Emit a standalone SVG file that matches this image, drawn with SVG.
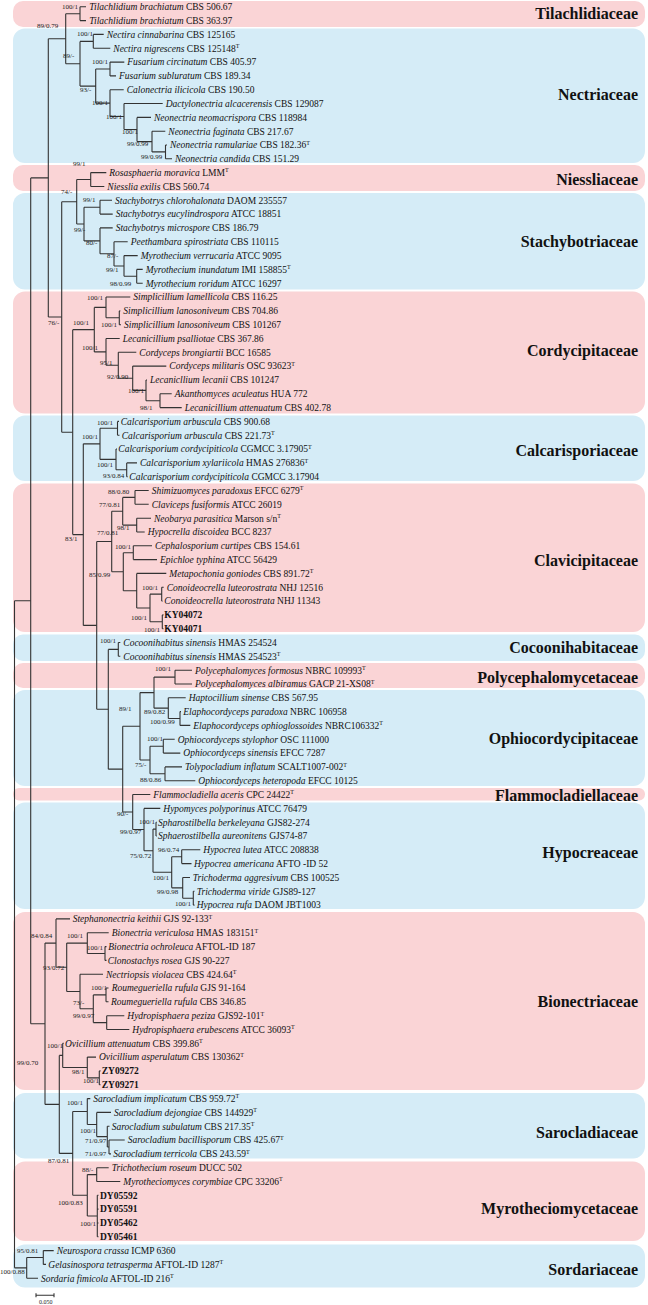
<svg xmlns="http://www.w3.org/2000/svg" width="648" height="1305" viewBox="0 0 648 1305">
<style>
.sp{font-family:"Liberation Serif","Times New Roman",serif;font-size:9.5px;fill:#111}
.i{font-style:italic}
.bd{font-weight:bold}
.sup{font-size:6px}
.sv{font-family:"Liberation Serif","Times New Roman",serif;font-size:7px;fill:#222}
.fam{font-family:"Liberation Serif","Times New Roman",serif;font-size:16px;font-weight:bold;text-anchor:end;fill:#111}
.pk{fill:#FAD4D6}
.bl{fill:#D5ECF7}
.ln{fill:none;stroke:#333;stroke-width:1.1}
</style>
<rect width="648" height="1305" fill="#fff"/>
<g id="families">
<g id="fam-til"><rect class="pk" x="13" y="1" width="632" height="26" rx="10"/><text class="fam" x="638" y="19">Tilachlidiaceae</text></g>
<g id="fam-nect"><rect class="bl" x="13" y="28.5" width="632" height="134.5" rx="12"/><text class="fam" x="638" y="100">Nectriaceae</text></g>
<g id="fam-nies"><rect class="pk" x="13" y="165" width="632" height="26" rx="10"/><text class="fam" x="638" y="185">Niessliaceae</text></g>
<g id="fam-stach"><rect class="bl" x="13" y="193" width="632" height="96.5" rx="12"/><text class="fam" x="638" y="247">Stachybotriaceae</text></g>
<g id="fam-cord"><rect class="pk" x="13" y="291.5" width="632" height="122" rx="12"/><text class="fam" x="638" y="356">Cordycipitaceae</text></g>
<g id="fam-calc"><rect class="bl" x="13" y="415.5" width="632" height="65.5" rx="12"/><text class="fam" x="638" y="456">Calcarisporiaceae</text></g>
<g id="fam-clav"><rect class="pk" x="13" y="483.5" width="632" height="148.5" rx="12"/><text class="fam" x="638" y="566">Clavicipitaceae</text></g>
<g id="fam-coco"><rect class="bl" x="13" y="634.5" width="632" height="26.5" rx="10"/><text class="fam" x="638" y="653">Cocoonihabitaceae</text></g>
<g id="fam-poly"><rect class="pk" x="13" y="663" width="632" height="25" rx="10"/><text class="fam" x="638" y="682.5">Polycephalomycetaceae</text></g>
<g id="fam-ophio"><rect class="bl" x="13" y="690" width="632" height="96" rx="12"/><text class="fam" x="638" y="743.5">Ophiocordycipitaceae</text></g>
<g id="fam-flam"><rect class="pk" x="13" y="788" width="632" height="12.5" rx="6"/><text class="fam" x="638" y="800.5">Flammocladiellaceae</text></g>
<g id="fam-hypo"><rect class="bl" x="13" y="802.5" width="632" height="106.5" rx="12"/><text class="fam" x="638" y="858">Hypocreaceae</text></g>
<g id="fam-bion"><rect class="pk" x="13" y="912" width="632" height="178" rx="12"/><text class="fam" x="638" y="1006.5">Bionectriaceae</text></g>
<g id="fam-saro"><rect class="bl" x="13" y="1093" width="632" height="65.5" rx="12"/><text class="fam" x="638" y="1138">Sarocladiaceae</text></g>
<g id="fam-myro"><rect class="pk" x="13" y="1161.5" width="632" height="79.5" rx="12"/><text class="fam" x="638" y="1214">Myrotheciomycetaceae</text></g>
<g id="fam-sord"><rect class="bl" x="13" y="1244.5" width="632" height="43" rx="12"/><text class="fam" x="638" y="1275">Sordariaceae</text></g>
</g>
<g id="connectors" class="ln">
<path d="M80 6.8V20.6M80 6.8H86M80 20.6H86M93.3 34.4V48.3M93.3 34.4H103.7M93.3 48.3H110.3M110 62.1V75.9M110 62.1H124.3M110 75.9H116M165.5 145V158.8M165.5 145H167M165.5 158.8H172M152 131.2V151.9M152 131.2H165.3M152 151.9H165.5M137 117.4V141.6M137 117.4H151M137 141.6H152M124 103.5V129.5M124 103.5H162.7M124 129.5H137M110 89.7V116.5M110 89.7H123.7M110 116.5H124M95.7 69V103.1M95.7 69H110M95.7 103.1H110M80 41.4V86.1M80 41.4H93.3M80 86.1H95.7M65.7 13.7V63.8M65.7 13.7H80M65.7 63.8H80M48.3 38.8V317M48.3 38.8H65.7M48.3 317H61.7"/>
<path d="M90.7 172.6V186.5M90.7 172.6H106.3M90.7 186.5H104.3M100 200.3V214.1M100 200.3H112M100 214.1H112.7M136.7 269.4V283.2M136.7 269.4H142.7M136.7 283.2H142.7M124 255.6V276.3M124 255.6H137.7M124 276.3H136.7M114 241.7V266M114 241.7H127.7M114 266H124M100 227.9V253.8M100 227.9H112.7M100 253.8H114M84 207.2V240.9M84 207.2H100M84 240.9H100M76.7 179.55V224.05M76.7 179.55H90.7M76.7 224.05H84M61.7 201.8V432.2M61.7 201.8H76.7M61.7 432.2H72.7"/>
<path d="M119.3 310.9V324.7M119.3 310.9H120.3M119.3 324.7H121M106 297V317.8M106 297H130.3M106 317.8H119.3M160 393.8V407.6M160 393.8H171.7M160 407.6H181.7M146 380V400.7M146 380H147M146 400.7H160M132.7 366.1V390.35M132.7 366.1H166.3M132.7 390.35H146M118.3 352.3V378.2M118.3 352.3H136.3M118.3 378.2H132.7M106 338.5V365.25M106 338.5H119.7M106 365.25H118.3M94.3 307.4V351.9M94.3 307.4H106M94.3 351.9H106M72.7 329.65V534.6M72.7 329.65H94.3M72.7 534.6H83.3"/>
<path d="M117.5 421.4V435.2M117.5 421.4H119M117.5 435.2H119.5M126.7 462.9V476.7M126.7 462.9H137M126.7 476.7H127.7M116 449V469.8M116 449H117M116 469.8H126.7M100 428.3V459.4M100 428.3H117.5M100 459.4H116M83.3 443.85V625.4M83.3 443.85H100M83.3 625.4H96.7"/>
<path d="M135 490.5V504.3M135 490.5H148.7M135 504.3H148.7M136.7 518.2V532M136.7 518.2H151M136.7 532H144.7M122.7 497.4V525.1M122.7 497.4H135M122.7 525.1H136.7M133.3 545.8V559.6M133.3 545.8H152M133.3 559.6H157M161.7 587.2V601.1M161.7 587.2H163.7M161.7 601.1H162.5M162.3 614.9V628.7M162.3 614.9H163.5M162.3 628.7H163.5M150 594.15V621.8M150 594.15H161.7M150 621.8H162.3M136.7 573.4V608M136.7 573.4H166.3M136.7 608H150M123.3 552.7V590.7M123.3 552.7H133.3M123.3 590.7H136.7M111.7 511.25V571.7M111.7 511.25H122.7M111.7 571.7H123.3M96.7 541.5V709.3M96.7 541.5H111.7M96.7 709.3H108.3"/>
<path d="M118.3 642.5V656.3M118.3 642.5H120.3M118.3 656.3H120.3M175 670.2V684M175 670.2H192M175 684H192M180 711.6V725.4M180 711.6H181M180 725.4H190.3M168.3 697.8V718.5M168.3 697.8H185.7M168.3 718.5H180M154 677.1V708.15M154 677.1H175M154 708.15H168.3M163.3 739.3V753.1M163.3 739.3H174.7M163.3 753.1H180.3M165 766.9V780.7M165 766.9H182M165 780.7H195.3M150 746.2V773.8M150 746.2H163.3M150 773.8H165M140 692.6V760M140 692.6H154M140 760H150"/>
<path d="M181.7 849.8V863.6M181.7 849.8H200.3M181.7 863.6H191.5M193.3 891.3V905.1M193.3 891.3H194.5M193.3 905.1H194.5M182.7 877.5V898.2M182.7 877.5H190M182.7 898.2H193.3M171.7 856.7V887.85M171.7 856.7H181.7M171.7 887.85H182.7M156 822.2V836M156 822.2H156.8M156 836H156.8M153 829.1V872.3M153 829.1H156M153 872.3H171.7M144 808.4V850.7M144 808.4H160.3M144 850.7H153M132.7 794.5V829.55M132.7 794.5H150.3M132.7 829.55H144M122.7 726.3V812M122.7 726.3H140M122.7 812H132.7M108.3 649.4V769.15M108.3 649.4H118.3M108.3 769.15H122.7"/>
<path d="M105 946.6V960.4M105 946.6H106.5M105 960.4H106.5M87.3 932.7V953.5M87.3 932.7H108.7M87.3 953.5H105M106 988V1001.8M106 988H108.5M106 1001.8H108.5M106.7 1015.7V1029.5M106.7 1015.7H124.3M106.7 1029.5H129.3M93.3 994.9V1022.6M93.3 994.9H106M93.3 1022.6H106.7M80 974.2V1008.75M80 974.2H103M80 1008.75H93.3M66.7 943.1V991.5M66.7 943.1H87.3M66.7 991.5H80M56 918.9V967.3M56 918.9H70M56 967.3H66.7"/>
<path d="M99.3 1070.9V1084.8M99.3 1070.9H100.5M99.3 1084.8H100.5M87.3 1057.1V1077.85M87.3 1057.1H96M87.3 1077.85H99.3M62.7 1043.3V1067.5M62.7 1043.3H63.8M62.7 1067.5H87.3M109 1140V1153.9M109 1140H124.7M109 1153.9H111M107.3 1126.2V1146.95M107.3 1126.2H109.5M107.3 1146.95H109M96.7 1112.4V1136.6M96.7 1112.4H111M96.7 1136.6H107.3M87.3 1098.6V1124.5M87.3 1098.6H90.3M87.3 1124.5H96.7M96.7 1167.7V1181.5M96.7 1167.7H108.7M96.7 1181.5H120.3M97.3 1195.3V1236.8M97.3 1195.3H98.5M97.3 1209.1H98.5M97.3 1223H98.5M97.3 1236.8H98.5M87.3 1174.6V1216.05M87.3 1174.6H96.7M87.3 1216.05H97.3M72.7 1111.55V1195.3M72.7 1111.55H87.3M72.7 1195.3H87.3M59.3 1055.4V1153.4M59.3 1055.4H62.7M59.3 1153.4H72.7M45 943.1V1104.4M45 943.1H56M45 1104.4H59.3M30.7 177.9V1023.75M30.7 177.9H48.3M30.7 1023.75H45"/>
<path d="M43.3 1250.6V1264.4M43.3 1250.6H53.7M43.3 1264.4H46M26.7 1257.5V1278.2M26.7 1257.5H43.3M26.7 1278.2H38M14.5 600.8V1267.85M14.5 600.8H30.7M14.5 1267.85H26.7"/>
<path d="M36 1295.3H54M36 1293.3V1297.3M54 1293.3V1297.3"/>
</g>
<g id="support" class="sv">
<text x="62" y="8.5">100/1</text>
<text x="37" y="27.5">89/0.79</text>
<text x="77" y="35.5">100/1</text>
<text x="63" y="57.5">89/-</text>
<text x="92" y="63.5">100/1</text>
<text x="80" y="91.5">93/-</text>
<text x="92" y="104.5">100/1</text>
<text x="106" y="118.5">100/1</text>
<text x="122" y="133.5">100/1</text>
<text x="127" y="145.5">99/0.99</text>
<text x="141" y="158.5">99/0.99</text>
<text x="73" y="165.5">99/1</text>
<text x="61" y="193.5">74/-</text>
<text x="83" y="201.5">99/1</text>
<text x="74" y="231.5">99/-</text>
<text x="86" y="244.5">80/-</text>
<text x="107" y="257.5">87/-</text>
<text x="106" y="271.5">99/1</text>
<text x="110" y="285.5">98/0.99</text>
<text x="87" y="299.5">100/1</text>
<text x="48" y="324.5">76/-</text>
<text x="73" y="324.5">100/1</text>
<text x="101" y="326.5">100/1</text>
<text x="82" y="349.5">100/1</text>
<text x="100" y="364.5">95/1</text>
<text x="107" y="378.5">92/0.90</text>
<text x="128" y="392.5">100/1</text>
<text x="140" y="409.5">98/1</text>
<text x="97" y="424.5">100/1</text>
<text x="82" y="438.5">100/1</text>
<text x="97" y="466.5">100/1</text>
<text x="103" y="477.5">93/0.84</text>
<text x="108" y="493.5">88/0.80</text>
<text x="99" y="506.5">77/0.81</text>
<text x="117" y="529.5">98/1</text>
<text x="97" y="534.5">77/0.81</text>
<text x="65" y="540.5">83/1</text>
<text x="115" y="548.5">100/1</text>
<text x="89" y="576.5">85/0.99</text>
<text x="142" y="589.5">100/1</text>
<text x="131" y="619.5">100/1</text>
<text x="144" y="631.5">100/1</text>
<text x="100" y="642.5">100/1</text>
<text x="155" y="670.5">100/1</text>
<text x="119" y="710.5">89/1</text>
<text x="144" y="713.5">89/0.82</text>
<text x="150" y="723.5">100/0.99</text>
<text x="147" y="740.5">100/1</text>
<text x="135" y="766.5">75/-</text>
<text x="140" y="781.5">88/0.86</text>
<text x="117" y="815.5">90/-</text>
<text x="139" y="823.5">100/1</text>
<text x="120" y="833.5">99/0.97</text>
<text x="158" y="851.5">96/0.74</text>
<text x="130" y="857.5">75/0.72</text>
<text x="153" y="879.5">100/1</text>
<text x="157" y="893.5">99/0.98</text>
<text x="175" y="905.5">100/1</text>
<text x="31" y="937.5">84/0.84</text>
<text x="67" y="937.5">100/1</text>
<text x="87" y="949.5">100/1</text>
<text x="43" y="969.5">93/0.72</text>
<text x="91" y="989.5">100/1</text>
<text x="73" y="1004.5">73/-</text>
<text x="73" y="1017.5">99/0.97</text>
<text x="47" y="1047.5">100/1</text>
<text x="17" y="1064.5">99/0.70</text>
<text x="72" y="1073.5">98/1</text>
<text x="83" y="1082.5">100/1</text>
<text x="67" y="1104.5">100/1</text>
<text x="80" y="1132.5">100/1</text>
<text x="85" y="1142.5">71/0.97</text>
<text x="85" y="1155.5">71/0.97</text>
<text x="48" y="1162.5">87/0.81</text>
<text x="82" y="1171.5">88/-</text>
<text x="58" y="1204.5">100/0.83</text>
<text x="80" y="1225.5">100/1</text>
<text x="17" y="1252.5">95/0.81</text>
<text x="0" y="1273.5">100/0.88</text>
<text x="39" y="1304" style="font-size:6px">0.050</text>
</g>
<g id="taxa" class="sp">
<g id="t1"><text x="89.3" y="10.1"><tspan class="i">Tilachlidium brachiatum</tspan> CBS 506.67</text></g>
<g id="t2"><text x="89.3" y="23.9"><tspan class="i">Tilachlidium brachiatum</tspan> CBS 363.97</text></g>
<g id="t3"><text x="106.7" y="37.7"><tspan class="i">Nectira cinnabarina</tspan> CBS 125165</text></g>
<g id="t4"><text x="113.3" y="51.6"><tspan class="i">Nectira nigrescens</tspan> CBS 125148<tspan class="sup" dy="-3.5">T</tspan></text></g>
<g id="t5"><text x="127.3" y="65.4"><tspan class="i">Fusarium circinatum</tspan> CBS 405.97</text></g>
<g id="t6"><text x="119" y="79.2"><tspan class="i">Fusarium subluratum</tspan> CBS 189.34</text></g>
<g id="t7"><text x="126.7" y="93"><tspan class="i">Calonectria ilicicola</tspan> CBS 190.50</text></g>
<g id="t8"><text x="165.7" y="106.8"><tspan class="i">Dactylonectria alcacerensis</tspan> CBS 129087</text></g>
<g id="t9"><text x="154" y="120.7"><tspan class="i">Neonectria neomacrispora</tspan> CBS 118984</text></g>
<g id="t10"><text x="168.3" y="134.5"><tspan class="i">Neonectria faginata</tspan> CBS 217.67</text></g>
<g id="t11"><text x="170" y="148.3"><tspan class="i">Neonectria ramulariae</tspan> CBS 182.36<tspan class="sup" dy="-3.5">T</tspan></text></g>
<g id="t12"><text x="175" y="162.1"><tspan class="i">Neonectria candida</tspan> CBS 151.29</text></g>
<g id="t13"><text x="109.3" y="175.9"><tspan class="i">Rosasphaeria moravica</tspan> LMM<tspan class="sup" dy="-3.5">T</tspan></text></g>
<g id="t14"><text x="107.3" y="189.8"><tspan class="i">Niesslia exilis</tspan> CBS 560.74</text></g>
<g id="t15"><text x="115" y="203.6"><tspan class="i">Stachybotrys chlorohalonata</tspan> DAOM 235557</text></g>
<g id="t16"><text x="115.7" y="217.4"><tspan class="i">Stachybotrys eucylindrospora</tspan> ATCC 18851</text></g>
<g id="t17"><text x="115.7" y="231.2"><tspan class="i">Stachybotrys microspore</tspan> CBS 186.79</text></g>
<g id="t18"><text x="130.7" y="245"><tspan class="i">Peethambara spirostriata</tspan> CBS 110115</text></g>
<g id="t19"><text x="140.7" y="258.9"><tspan class="i">Myrothecium verrucaria</tspan> ATCC 9095</text></g>
<g id="t20"><text x="145.7" y="272.7"><tspan class="i">Myrothecium inundatum</tspan> IMI 158855<tspan class="sup" dy="-3.5">T</tspan></text></g>
<g id="t21"><text x="145.7" y="286.5"><tspan class="i">Myrothecium roridum</tspan> ATCC 16297</text></g>
<g id="t22"><text x="133.3" y="300.3"><tspan class="i">Simplicillium lamellicola</tspan> CBS 116.25</text></g>
<g id="t23"><text x="123.3" y="314.2"><tspan class="i">Simplicillium lanosoniveum</tspan> CBS 704.86</text></g>
<g id="t24"><text x="124" y="328"><tspan class="i">Simplicillium lanosoniveum</tspan> CBS 101267</text></g>
<g id="t25"><text x="122.7" y="341.8"><tspan class="i">Lecanicillium psalliotae</tspan> CBS 367.86</text></g>
<g id="t26"><text x="139.3" y="355.6"><tspan class="i">Cordyceps brongiartii</tspan> BCC 16585</text></g>
<g id="t27"><text x="169.3" y="369.4"><tspan class="i">Cordyceps militaris</tspan> OSC 93623<tspan class="sup" dy="-3.5">T</tspan></text></g>
<g id="t28"><text x="150" y="383.3"><tspan class="i">Lecanicllium lecanii</tspan> CBS 101247</text></g>
<g id="t29"><text x="174.7" y="397.1"><tspan class="i">Akanthomyces aculeatus</tspan> HUA 772</text></g>
<g id="t30"><text x="184.7" y="410.9"><tspan class="i">Lecanicillium attenuatum</tspan> CBS 402.78</text></g>
<g id="t31"><text x="120.7" y="424.7"><tspan class="i">Calcarisporium arbuscula</tspan> CBS 900.68</text></g>
<g id="t32"><text x="121.7" y="438.5"><tspan class="i">Calcarisporium arbuscula</tspan> CBS 221.73<tspan class="sup" dy="-3.5">T</tspan></text></g>
<g id="t33"><text x="118.3" y="452.3"><tspan class="i">Calcarisporium cordycipiticola</tspan> CGMCC 3.17905<tspan class="sup" dy="-3.5">T</tspan></text></g>
<g id="t34"><text x="140" y="466.2"><tspan class="i">Calcarisporium xylariicola</tspan> HMAS 276836<tspan class="sup" dy="-3.5">T</tspan></text></g>
<g id="t35"><text x="129.3" y="480"><tspan class="i">Calcarisporium cordycipiticola</tspan> CGMCC 3.17904</text></g>
<g id="t36"><text x="151.7" y="493.8"><tspan class="i">Shimizuomyces paradoxus</tspan> EFCC 6279<tspan class="sup" dy="-3.5">T</tspan></text></g>
<g id="t37"><text x="151.7" y="507.6"><tspan class="i">Claviceps fusiformis</tspan> ATCC 26019</text></g>
<g id="t38"><text x="154" y="521.5"><tspan class="i">Neobarya parasitica</tspan> Marson s/n<tspan class="sup" dy="-3.5">T</tspan></text></g>
<g id="t39"><text x="147.7" y="535.3"><tspan class="i">Hypocrella discoidea</tspan> BCC 8237</text></g>
<g id="t40"><text x="155" y="549.1"><tspan class="i">Cephalosporium curtipes</tspan> CBS 154.61</text></g>
<g id="t41"><text x="160" y="562.9"><tspan class="i">Epichloe typhina</tspan> ATCC 56429</text></g>
<g id="t42"><text x="169.3" y="576.7"><tspan class="i">Metapochonia goniodes</tspan> CBS 891.72<tspan class="sup" dy="-3.5">T</tspan></text></g>
<g id="t43"><text x="166.7" y="590.5"><tspan class="i">Conoideocrella luteorostrata</tspan> NHJ 12516</text></g>
<g id="t44"><text x="164.3" y="604.4"><tspan class="i">Conoideocrella luteorostrata</tspan> NHJ 11343</text></g>
<g id="t45"><text class="bd" x="164.3" y="618.2">KY04072</text></g>
<g id="t46"><text class="bd" x="164.3" y="632">KY04071</text></g>
<g id="t47"><text x="123.3" y="645.8"><tspan class="i">Cocoonihabitus sinensis</tspan> HMAS 254524</text></g>
<g id="t48"><text x="123.3" y="659.6"><tspan class="i">Cocoonihabitus sinensis</tspan> HMAS 254523<tspan class="sup" dy="-3.5">T</tspan></text></g>
<g id="t49"><text x="195" y="673.5"><tspan class="i">Polycephalomyces formosus</tspan> NBRC 109993<tspan class="sup" dy="-3.5">T</tspan></text></g>
<g id="t50"><text x="195" y="687.3"><tspan class="i">Polycephalomyces albiramus</tspan> GACP 21-XS08<tspan class="sup" dy="-3.5">T</tspan></text></g>
<g id="t51"><text x="188.7" y="701.1"><tspan class="i">Haptocillium sinense</tspan> CBS 567.95</text></g>
<g id="t52"><text x="183.3" y="714.9"><tspan class="i">Elaphocordyceps paradoxa</tspan> NBRC 106958</text></g>
<g id="t53"><text x="193.3" y="728.7"><tspan class="i">Elaphocordyceps ophioglossoides</tspan> NBRC106332<tspan class="sup" dy="-3.5">T</tspan></text></g>
<g id="t54"><text x="177.7" y="742.6"><tspan class="i">Ophiocordyceps stylophor</tspan> OSC 111000</text></g>
<g id="t55"><text x="183.3" y="756.4"><tspan class="i">Ophiocordyceps sinensis</tspan> EFCC 7287</text></g>
<g id="t56"><text x="185" y="770.2"><tspan class="i">Tolypocladium inflatum</tspan> SCALT1007-002<tspan class="sup" dy="-3.5">T</tspan></text></g>
<g id="t57"><text x="198.3" y="784"><tspan class="i">Ophiocordyceps heteropoda</tspan> EFCC 10125</text></g>
<g id="t58"><text x="153.3" y="797.8"><tspan class="i">Flammocladiella aceris</tspan> CPC 24422<tspan class="sup" dy="-3.5">T</tspan></text></g>
<g id="t59"><text x="163.3" y="811.7"><tspan class="i">Hypomyces polyporinus</tspan> ATCC 76479</text></g>
<g id="t60"><text x="158" y="825.5"><tspan class="i">Spharostilbella berkeleyana</tspan> GJS82-274</text></g>
<g id="t61"><text x="158" y="839.3"><tspan class="i">Sphaerostilbella aureonitens</tspan> GJS74-87</text></g>
<g id="t62"><text x="203.3" y="853.1"><tspan class="i">Hypocrea lutea</tspan> ATCC 208838</text></g>
<g id="t63"><text x="194" y="866.9"><tspan class="i">Hypocrea americana</tspan> AFTO -ID 52</text></g>
<g id="t64"><text x="192.7" y="880.8"><tspan class="i">Trichoderma aggresivum</tspan> CBS 100525</text></g>
<g id="t65"><text x="196.7" y="894.6"><tspan class="i">Trichoderma viride</tspan> GJS89-127</text></g>
<g id="t66"><text x="196.7" y="908.4"><tspan class="i">Hypocrea rufa</tspan> DAOM JBT1003</text></g>
<g id="t67"><text x="72.7" y="922.2"><tspan class="i">Stephanonectria keithii</tspan> GJS 92-133<tspan class="sup" dy="-3.5">T</tspan></text></g>
<g id="t68"><text x="111.7" y="936"><tspan class="i">Bionectria vericulosa</tspan> HMAS 183151<tspan class="sup" dy="-3.5">T</tspan></text></g>
<g id="t69"><text x="108.3" y="949.9"><tspan class="i">Bionectria ochroleuca</tspan> AFTOL-ID 187</text></g>
<g id="t70"><text x="107.7" y="963.7"><tspan class="i">Clonostachys rosea</tspan> GJS 90-227</text></g>
<g id="t71"><text x="106" y="977.5"><tspan class="i">Nectriopsis violacea</tspan> CBS 424.64<tspan class="sup" dy="-3.5">T</tspan></text></g>
<g id="t72"><text x="111.7" y="991.3"><tspan class="i">Roumegueriella rufula</tspan>  GJS 91-164</text></g>
<g id="t73"><text x="111" y="1005.1"><tspan class="i">Roumegueriella rufula</tspan> CBS 346.85</text></g>
<g id="t74"><text x="127.3" y="1019"><tspan class="i">Hydropisphaera peziza</tspan> GJS92-101<tspan class="sup" dy="-3.5">T</tspan></text></g>
<g id="t75"><text x="132.3" y="1032.8"><tspan class="i">Hydropisphaera erubescens</tspan> ATCC 36093<tspan class="sup" dy="-3.5">T</tspan></text></g>
<g id="t76"><text x="65" y="1046.6"><tspan class="i">Ovicillium attenuatum</tspan> CBS 399.86<tspan class="sup" dy="-3.5">T</tspan></text></g>
<g id="t77"><text x="99" y="1060.4"><tspan class="i">Ovicillium asperulatum</tspan> CBS 130362<tspan class="sup" dy="-3.5">T</tspan></text></g>
<g id="t78"><text class="bd" x="101.7" y="1074.2">ZY09272</text></g>
<g id="t79"><text class="bd" x="101.7" y="1088.1">ZY09271</text></g>
<g id="t80"><text x="93.3" y="1101.9"><tspan class="i">Sarocladium implicatum</tspan> CBS 959.72<tspan class="sup" dy="-3.5">T</tspan></text></g>
<g id="t81"><text x="114" y="1115.7"><tspan class="i">Sarocladium dejongiae</tspan> CBS 144929<tspan class="sup" dy="-3.5">T</tspan></text></g>
<g id="t82"><text x="111.7" y="1129.5"><tspan class="i">Sarocladium subulatum</tspan> CBS 217.35<tspan class="sup" dy="-3.5">T</tspan></text></g>
<g id="t83"><text x="127.7" y="1143.3"><tspan class="i">Sarocladium bacillisporum</tspan> CBS 425.67<tspan class="sup" dy="-3.5">T</tspan></text></g>
<g id="t84"><text x="113.3" y="1157.2"><tspan class="i">Sarocladium terricola</tspan> CBS 243.59<tspan class="sup" dy="-3.5">T</tspan></text></g>
<g id="t85"><text x="111.7" y="1171"><tspan class="i">Trichothecium roseum</tspan> DUCC 502</text></g>
<g id="t86"><text x="123.3" y="1184.8"><tspan class="i">Myrotheciomyces corymbiae</tspan> CPC 33206<tspan class="sup" dy="-3.5">T</tspan></text></g>
<g id="t87"><text class="bd" x="100" y="1198.6">DY05592</text></g>
<g id="t88"><text class="bd" x="100" y="1212.4">DY05591</text></g>
<g id="t89"><text class="bd" x="100" y="1226.3">DY05462</text></g>
<g id="t90"><text class="bd" x="100" y="1240.1">DY05461</text></g>
<g id="t91"><text x="56.7" y="1253.9"><tspan class="i">Neurospora crassa</tspan> ICMP 6360</text></g>
<g id="t92"><text x="48.3" y="1267.7"><tspan class="i">Gelasinospora tetrasperma</tspan> AFTOL-ID 1287<tspan class="sup" dy="-3.5">T</tspan></text></g>
<g id="t93"><text x="41" y="1281.5"><tspan class="i">Sordaria fimicola</tspan> AFTOL-ID 216<tspan class="sup" dy="-3.5">T</tspan></text></g>
</g>
</svg>
